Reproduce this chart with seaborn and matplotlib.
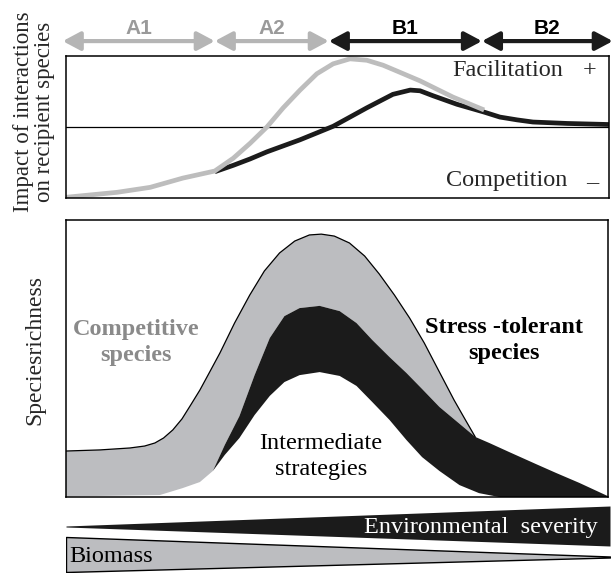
import numpy as np
import seaborn as sns
import matplotlib.pyplot as plt

# Gradiente ambiental: 0 (benigno) -> 100 (severo)

#%% Datos panel superior: impacto de las interacciones (-1 competencia, +1 facilitacion)
x_comp = [0, 9.4, 15.5, 21.5, 27.4, 30.8, 33.9, 37.0, 40.0, 43.1, 46.2, 49.2,
          52.3, 55.4, 58.4, 61.5, 65.2, 71.3, 77.0]
imp_comp = [-0.99, -0.92, -0.85, -0.72, -0.62, -0.44, -0.23, 0.0, 0.27, 0.52,
            0.75, 0.89, 0.96, 0.94, 0.87, 0.77, 0.65, 0.42, 0.24]
x_estres = [27.4, 30.8, 33.9, 37.0, 43.1, 49.2, 55.4, 60.2, 63.4, 65.2, 67.6,
            72.0, 77.0, 79.9, 83.1, 86.0, 92.3, 100]
imp_estres = [-0.63, -0.54, -0.45, -0.35, -0.18, 0.01, 0.27, 0.46, 0.52, 0.51,
              0.44, 0.32, 0.21, 0.14, 0.10, 0.07, 0.05, 0.035]

# Fases del gradiente
fase_lim = [-0.6, 27.4, 48.4, 76.6, 100.7]
fase_nombres = ['A1', 'A2', 'B1', 'B2']

#%% Datos panel inferior: riqueza de especies
# Curva total (borde superior)
x_total = [0, 6.3, 11.8, 14.5, 16.4, 18.0, 19.7, 21.4, 23.0, 24.7, 26.5, 28.4,
           31.1, 33.9, 36.6, 39.4, 42.2, 44.9, 47.1, 49.5, 52.3, 55.1, 57.8,
           60.6, 63.4, 66.1, 68.9, 71.6, 73.7, 75.5, 78.1, 81.8, 86.7, 90.4,
           94.7, 100]
riq_total = [16.6, 17.0, 17.7, 18.4, 19.5, 21.3, 24.2, 28.2, 33.2, 38.6, 45.1,
             52.0, 62.8, 72.9, 81.6, 88.1, 92.4, 94.6, 94.9, 94.2, 91.7, 87.0,
             80.5, 72.9, 64.6, 55.6, 45.1, 35.0, 27.8, 21.7, 19.5, 16.2, 11.9,
             8.7, 5.1, 0.3]
n_gris = 30  # puntos de la curva total hasta el encuentro con las tolerantes
# Base de las competitivas (antes de aparecer las intermedias)
x_base_comp = [0, 17.3, 21.5, 24.7, 27.1]
riq_base_comp = [0.2, 0.7, 3.2, 5.4, 9.4]
# Limite competitivas / tolerantes al estres
x_lim_st = [27.1, 29.3, 32.0, 34.8, 37.6, 40.3, 43.1, 46.8, 50.5, 53.6, 56.5,
            59.7, 62.8, 65.7, 68.9, 72.2, 75.5]
riq_lim_st = [9.4, 18.8, 29.2, 44.0, 57.4, 65.3, 68.2, 69.0, 67.1, 62.8, 56.7,
              50.5, 44.8, 39.0, 32.5, 27.1, 21.7]
# Limite tolerantes / intermedias
x_inter = [27.1, 29.3, 32.0, 34.8, 37.6, 40.3, 43.1, 46.8, 50.5, 53.6, 56.5,
           59.7, 62.8, 65.7, 68.9, 72.6, 76.2, 79.9]
riq_inter = [9.4, 15.2, 21.3, 29.6, 36.5, 41.5, 44.0, 45.1, 43.7, 40.1, 34.3,
             27.8, 20.6, 14.4, 9.4, 4.3, 1.4, 0.0]

#%% Cuñas inferiores
x_cuna = [0, 100]
sev_sup = [47, 67]
sev_inf = [46, 27]
bio_sup = [36, 16.5]
bio_inf = [1, 15.5]

gris = '#bcbdc0'
negro = '#1b1b1b'
gris_linea = '#bdbdbd'
gris_texto = '#8a8a8a'
fs = 17.5

sns.set_theme(style='white')
plt.rcParams['font.family'] = ['Liberation Serif', 'DejaVu Serif']

W, H = 615, 573
fig = plt.figure(figsize=(W / 100, H / 100), dpi=100)


def caja(px0, py0, px1, py1):
    return [px0 / W, 1 - py1 / H, (px1 - px0) / W, (py1 - py0) / H]


#%% Panel superior
ax1 = fig.add_axes(caja(66, 56, 609, 198))
ax1.axhline(0, color='black', lw=0.9)
sns.lineplot(x=x_estres, y=imp_estres, color=negro, lw=3.4, sort=False,
             estimator=None, ax=ax1, solid_capstyle='butt', solid_joinstyle='round')
sns.lineplot(x=x_comp, y=imp_comp, color=gris_linea, lw=3.4, sort=False,
             estimator=None, ax=ax1, solid_capstyle='butt', solid_joinstyle='round')
ax1.set_xlim(0, 100)
ax1.set_ylim(-1, 1)
ax1.set_xticks([])
ax1.set_yticks([])
ax1.set_xlabel('')
ax1.set_ylabel('')
for s in ax1.spines.values():
    s.set_color('black')
    s.set_linewidth(1.1)
ax1.text(91.5, 0.80, 'Facilitation', ha='right', va='center', fontsize=fs)
ax1.text(96.5, 0.80, '+', ha='center', va='center', fontsize=fs)
ax1.text(92.4, -0.76, 'Competition', ha='right', va='center', fontsize=fs)
ax1.text(96.9, -0.80, '–', ha='center', va='center', fontsize=fs)

# Flechas de fases
for i, nombre in enumerate(fase_nombres):
    c_flecha = '#b5b5b5' if nombre.startswith('A') else negro
    c_texto = '#9a9a9a' if nombre.startswith('A') else 'black'
    ax1.annotate('', xy=(fase_lim[i + 1], 1.21), xytext=(fase_lim[i], 1.21),
                 annotation_clip=False,
                 arrowprops=dict(arrowstyle='<|-|>,head_length=0.75,head_width=0.4',
                                 color=c_flecha, lw=3, shrinkA=0, shrinkB=0,
                                 mutation_scale=14))
    ax1.text((fase_lim[i] + fase_lim[i + 1]) / 2, 1.39, nombre, ha='center',
             va='center', fontsize=15, fontweight='bold', color=c_texto,
             family=['Liberation Sans', 'DejaVu Sans'], clip_on=False)

#%% Panel inferior
ax2 = fig.add_axes(caja(66, 220, 608, 497))
poly_gris_x = x_total[:n_gris] + x_lim_st[::-1] + x_base_comp[::-1]
poly_gris_y = riq_total[:n_gris] + riq_lim_st[::-1] + riq_base_comp[::-1]
ax2.fill(poly_gris_x, poly_gris_y, color=gris, lw=0)
poly_negro_x = x_lim_st + x_total[n_gris:] + [100] + x_inter[::-1]
poly_negro_y = riq_lim_st + riq_total[n_gris:] + [0] + riq_inter[::-1]
ax2.fill(poly_negro_x, poly_negro_y, color=negro, lw=0)
ax2.plot(x_total[:n_gris], riq_total[:n_gris], color='black', lw=0.9,
         solid_joinstyle='round')
ax2.set_xlim(0, 100)
ax2.set_ylim(0, 100)
ax2.set_xticks([])
ax2.set_yticks([])
for s in ax2.spines.values():
    s.set_color('black')
    s.set_linewidth(1.1)
ax2.text(12.9, 55.8, 'Competitive\nspecies', ha='center', va='center',
         fontsize=fs, fontweight='bold', color=gris_texto, linespacing=1.3)
ax2.text(80.8, 56.5, 'Stress -tolerant\nspecies', ha='center', va='center',
         fontsize=fs, fontweight='bold', color='black', linespacing=1.3)
ax2.text(47.0, 14.5, 'Intermediate\nstrategies', ha='center', va='center',
         fontsize=fs, color='black', linespacing=1.3)

#%% Cuñas
ax3 = fig.add_axes(caja(66, 500, 610, 573))
ax3.fill_between(x_cuna, sev_inf, sev_sup, color=negro, lw=0)
ax3.fill_between(x_cuna, bio_inf, bio_sup, color=gris, edgecolor='black', lw=1)
ax3.set_xlim(0, 100)
ax3.set_ylim(0, 73)
ax3.axis('off')
ax3.text(97.8, 45, 'Environmental  severity', ha='right', va='center',
         fontsize=fs, color='white')
ax3.text(0.6, 16, 'Biomass', ha='left', va='center', fontsize=fs, color='black')

#%% Titulos de ejes
fig.text(34 / W, 1 - 112 / H, 'Impact of interactions\non recipient species',
         rotation=90, ha='center', va='center', fontsize=16.5, linespacing=1.05)
fig.text(35 / W, 1 - 350 / H, 'Speciesrichness', rotation=90, ha='center',
         va='center', fontsize=17)

fig.savefig('out.png', dpi=100)
